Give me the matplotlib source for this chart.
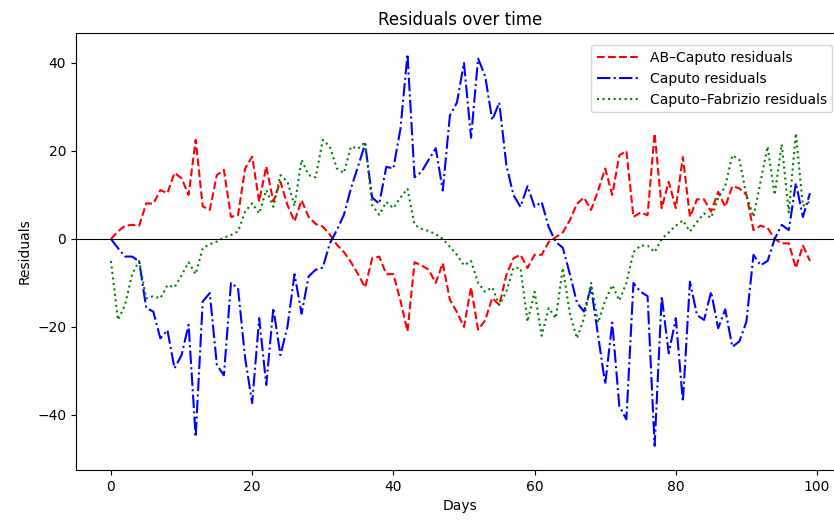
import numpy as np
import matplotlib
matplotlib.use("Agg")
import matplotlib.pyplot as plt

days = np.arange(100)

ab_caputo = [
    0.0, 1.7, 3.0, 3.2, 3.0, 8.1, 8.0, 11.1, 10.4, 15.0, 13.8, 10.0, 22.5,
    7.4, 6.6, 14.5, 15.7, 5.0, 5.4, 16.0, 18.7, 8.5, 16.5, 8.5, 13.0, 7.7, 4.0,
    8.8, 5.0, 3.4, 2.8, 1.0, -1.3, -3.0, -5.3, -8.0, -11.0, -4.4, -4.0, -8.0,
    -8.0, -14.0, -21.0, -5.3, -6.0, -7.0, -10.0, -5.5, -13.8, -16.6, -20.0, -11.0, -20.6, -18.5,
    -13.4, -15.0, -8.2, -4.4, -3.6, -6.6, -3.6, -3.6, -0.7, 0.4, 1.5, 4.3, 8.0,
    9.4, 6.6, 11.0, 16.0, 10.0, 19.0, 20.0, 5.0, 6.0, 5.4, 24.0, 7.0, 13.0,
    7.0, 18.6, 5.0, 9.0, 9.0, 6.2, 10.7, 7.3, 12.0, 11.5, 10.0, 2.0, 3.0, 2.5,
    0.0, -1.0, -1.0, -6.6, -1.5, -5.0,
]

caputo = [
    0.0, -2.1, -4.0, -4.0, -5.1, -15.7, -16.5, -22.6, -20.7, -29.4, -26.4, -19.5, -45.0,
    -14.2, -12.3, -28.6, -31.0, -10.0, -11.2, -27.0, -37.3, -18.0, -33.2, -15.7, -26.4, -20.0, -8.0,
    -17.0, -8.5, -7.0, -6.5, -1.0, 2.0, 5.5, 11.5, 16.5, 21.6, 9.4, 8.0, 16.4,
    16.0, 25.0, 42.0, 14.0, 15.3, 18.0, 20.6, 11.0, 28.0, 31.0, 40.0, 23.0, 41.0, 37.0,
    27.0, 31.0, 16.8, 10.0, 7.3, 12.0, 7.3, 8.4, 2.7, -0.7, -2.0, -8.0, -14.5,
    -16.5, -11.0, -22.0, -33.0, -19.0, -38.0, -41.0, -10.0, -12.0, -13.0, -47.0, -13.0, -26.0,
    -18.0, -37.0, -9.7, -17.3, -18.4, -12.0, -20.3, -16.0, -24.5, -23.3, -18.8, -3.6, -6.0, -5.0,
    0.0, 3.2, 2.0, 12.7, 5.0, 10.4,
]

caputo_fabrizio = [
    -5.0, -18.4, -15.0, -8.0, -5.0, -13.5, -13.0, -13.5, -10.5, -11.0, -8.3, -5.3, -8.0,
    -2.1, -1.2, -0.6, 0.3, 0.9, 1.7, 6.2, 8.1, 5.8, 11.1, 7.3, 14.5, 13.0, 7.5,
    18.0, 14.5, 14.0, 22.5, 21.0, 16.0, 15.0, 21.0, 20.5, 22.0, 7.7, 5.5, 8.4,
    7.0, 9.4, 11.4, 3.2, 2.3, 1.8, 1.1, 0.0, -1.8, -3.6, -6.0, -5.0, -10.0, -12.0,
    -11.0, -15.0, -12.0, -6.6, -6.6, -18.8, -12.0, -22.0, -15.7, -18.0, -6.6, -17.0, -22.6,
    -18.0, -10.0, -19.0, -14.0, -10.5, -14.0, -10.0, -3.0, -1.5, -1.5, -3.0, 0.0, 1.5,
    3.0, 4.2, 1.7, 3.9, 5.8, 4.8, 9.3, 12.0, 19.0, 18.0, 10.0, 5.0, 13.0, 21.0,
    10.0, 21.5, 6.0, 24.0, 7.5, 8.5,
]

fig = plt.figure(figsize=(8.34, 5.21), dpi=100)
ax = fig.add_axes([0.0911, 0.0979, 0.922, 0.8388])

ax.plot(days, ab_caputo, "r--", label="AB–Caputo residuals")
ax.plot(days, caputo, "b-.", label="Caputo residuals")
ax.plot(days, caputo_fabrizio, "g:", label="Caputo–Fabrizio residuals")
ax.axhline(0, color="black", linewidth=0.8)

ax.set_xlim(-4.95, 103.95)
ax.set_ylim(-52.5, 46.8)
ax.set_xlabel("Days")
ax.set_ylabel("Residuals")
ax.set_title("Residuals over time")
ax.legend(loc="upper right", handlelength=3.0, handletextpad=0.8, borderaxespad=0.9)

fig.savefig("out.png", dpi=100)
